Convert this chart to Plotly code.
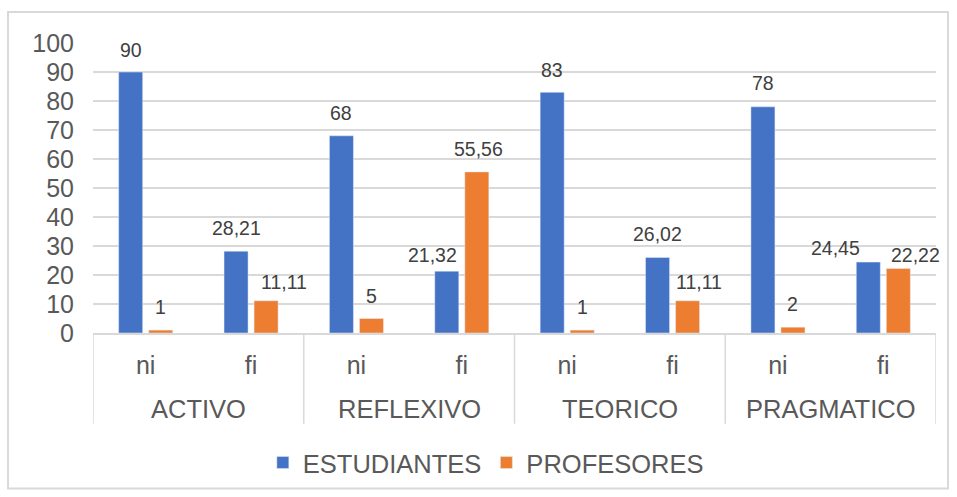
import plotly.graph_objects as go

groups = ["ACTIVO", "REFLEXIVO", "TEORICO", "PRAGMATICO"]
subcats = ["ni", "fi"]
estudiantes = [90, 28.21, 68, 21.32, 83, 26.02, 78, 24.45]
profesores = [1, 11.11, 5, 55.56, 1, 11.11, 2, 22.22]
yticks = [0, 10, 20, 30, 40, 50, 60, 70, 80, 90, 100]

# label placement tweaks (pixels) mimicking the original's label layout
est_dx = [0, 0, 0, -14, 0, 0, 0, -33]
est_dy = [22, 23, 23, 16, 22, 24, 24, 14]
pro_dx = [0, 18, 0, 2, 0, 11, 0, 17]
pro_dy = [23, 19, 23, 23, 23, 19, 23, 14]

FONT = "Liberation Sans, Arial, sans-serif"
TXT = "#595959"
LBL = "#404040"

cats = [f"{g}|{s}" for g in groups for s in subcats]
ticktext = [s for g in groups for s in subcats]

def fmt(v):
    s = f"{v:.2f}".rstrip("0").rstrip(".")
    return s.replace(".", ",")

fig = go.Figure()
fig.add_trace(go.Bar(x=cats, y=estudiantes, name="ESTUDIANTES", marker_color="#4472C4"))
fig.add_trace(go.Bar(x=cats, y=profesores, name="PROFESORES", marker_color="#ED7D31"))

L, R, T, B = 93, 21, 43, 163
pw = 957 - L - R
ph = 497 - T - B
bargap, bargroupgap = 0.43, 0.2
catw = pw / len(cats)
slot = catw * (1 - bargap) / 2

annotations = []
for i, c in enumerate(cats):
    for vals, dx, dy, side in ((estudiantes, est_dx, est_dy, -1), (profesores, pro_dx, pro_dy, 1)):
        annotations.append(dict(x=c, y=vals[i], xref="x", yref="y", text=fmt(vals[i]),
                                showarrow=False, xanchor="center", yanchor="middle",
                                xshift=side * slot / 2 + dx[i], yshift=dy[i],
                                font=dict(size=19.5, color=LBL, family=FONT)))
for gi, g in enumerate(groups):
    annotations.append(dict(x=gi * 2 + 0.5, y=(T + ph - 410) / ph, xref="x", yref="paper", text=g,
                            showarrow=False, xanchor="center", yanchor="middle",
                            font=dict(size=25.5, color=TXT, family=FONT)))

shapes = [dict(type="rect", xref="paper", yref="paper",
               x0=(8 - L) / pw, x1=(948 - L) / pw,
               y0=(T + ph - 490) / ph, y1=(T + ph - 12) / ph,
               line=dict(color="#d9d9d9", width=2), fillcolor="rgba(0,0,0,0)", layer="below")]
for k in range(len(groups) + 1):
    shapes.append(dict(type="line", xref="x", yref="paper", x0=k * 2 - 0.5, x1=k * 2 - 0.5,
                       y0=0, y1=(T + ph - 425) / ph, line=dict(color="#d9d9d9", width=1.5)))

fig.update_layout(
    width=957, height=497,
    margin=dict(l=L, r=R, t=T, b=B),
    paper_bgcolor="white", plot_bgcolor="white",
    barmode="group", bargap=bargap, bargroupgap=bargroupgap,
    font=dict(family=FONT, size=25, color=TXT),
    showlegend=True,
    legend=dict(orientation="h", x=0.466, xanchor="center", y=(T + ph - 463) / ph, yanchor="middle",
                font=dict(size=25.5, color=TXT), itemwidth=30, traceorder="normal"),
    xaxis=dict(type="category", tickvals=cats, ticktext=ticktext, range=[-0.5, len(cats) - 0.5],
               showgrid=False, showline=True, linecolor="#d9d9d9", linewidth=1.5,
               tickfont=dict(size=25, color=TXT), ticks="", ticklabelstandoff=9),
    yaxis=dict(range=[0, 100], tickvals=yticks, showgrid=True, gridcolor="#d9d9d9", gridwidth=1.5,
               zeroline=False, showline=False, tickfont=dict(size=25, color=TXT),
               ticklabelstandoff=18),
    annotations=annotations,
    shapes=shapes,
)

fig.write_html("out.html")
